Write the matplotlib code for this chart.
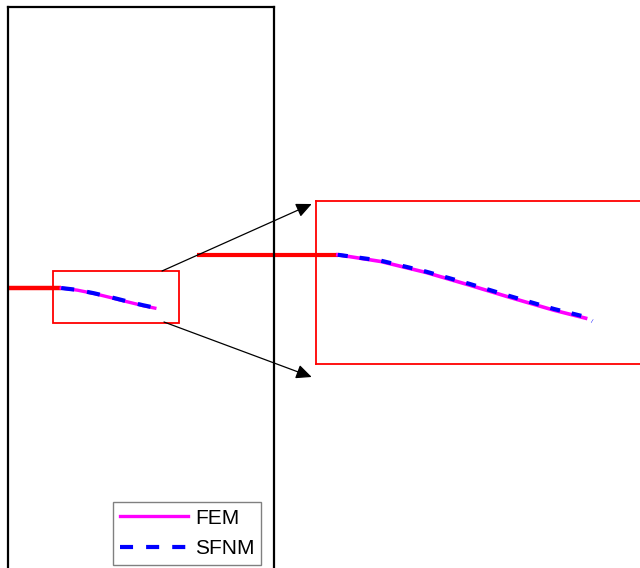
import matplotlib
matplotlib.use("Agg")
import matplotlib.pyplot as plt
from matplotlib.patches import Rectangle, FancyArrowPatch

plt.rcParams['font.family'] = ['Liberation Sans', 'DejaVu Sans']
plt.rcParams['lines.scale_dashes'] = False

# ---- data ----
base_x = [0.0, 0.40]
base_y = [0.0, 0.0]
fem_x = [0.40, 0.522, 0.650, 0.773, 0.891, 1.014, 1.104]
fem_y = [0.0, -0.016, -0.042, -0.072, -0.102, -0.132, -0.151]
sfnm_x = [0.40, 0.522, 0.650, 0.773, 0.891, 1.014, 1.104, 1.123]
sfnm_y = [0.0, -0.014, -0.040, -0.069, -0.099, -0.129, -0.148, -0.158]
labels = ["FEM", "SFNM"]
zoom_xlim = (0.338, 1.286)
zoom_ylim = (-0.260, 0.128)
main_xlim = (0.0, 2.0)
main_ylim = (-2.135, 2.113)

W, H = 640, 568
fig = plt.figure(figsize=(W / 100, H / 100), dpi=100)

def px_axes(x0, y0, x1, y1):
    # image pixel coords (top-left origin) -> figure fraction
    return [x0 / W, (H - y1) / H, (x1 - x0) / W, (y1 - y0) / H]

ax = fig.add_axes(px_axes(8, 7, 274, 572))
ax.set_xlim(*main_xlim)
ax.set_ylim(*main_ylim)
ax.set_xticks([])
ax.set_yticks([])
ax.set_facecolor('none')
for s in ax.spines.values():
    s.set_linewidth(1.6)
    s.set_color('black')
ax.set_zorder(3)

ax.plot(base_x, base_y, color='#ff0000', lw=3.2, solid_capstyle='butt')
l1, = ax.plot(fem_x, fem_y, color='#ff00ff', lw=2.4, label=labels[0])
l2, = ax.plot(sfnm_x, sfnm_y, color='#0000ff', lw=3.0, label=labels[1])
l2.set_dashes((9.4, 9.4))
l2.set_dash_capstyle('butt')

ax.add_patch(Rectangle((zoom_xlim[0], zoom_ylim[0]),
                       zoom_xlim[1] - zoom_xlim[0], zoom_ylim[1] - zoom_ylim[0],
                       fill=False, edgecolor='#ff0000', lw=1.3))

leg = ax.legend(handles=[l1, l2], loc='upper left',
                bbox_to_anchor=(113 / W, (H - 502) / H), bbox_transform=fig.transFigure,
                borderaxespad=0, fontsize=15, handlelength=3.3, handletextpad=0.32,
                borderpad=0.32, labelspacing=0.56, fancybox=False, framealpha=1,
                edgecolor='#808080')
leg.get_frame().set_linewidth(1.0)

# inset
x_scale = 352.0
inset_w = (zoom_xlim[1] - zoom_xlim[0]) * x_scale
ax2 = fig.add_axes(px_axes(316, 201, 316 + inset_w, 364))
ax2.set_zorder(1)
ax2.set_xlim(*zoom_xlim)
ax2.set_ylim(*zoom_ylim)
ax2.set_xticks([])
ax2.set_yticks([])
for s in ax2.spines.values():
    s.set_color('#ff0000')
    s.set_linewidth(1.3)
ax2.plot(base_x, base_y, color='#ff0000', lw=3.0, clip_on=False, solid_capstyle='butt')
ax2.plot(fem_x, fem_y, color='#ff00ff', lw=2.6)
l3, = ax2.plot(sfnm_x, sfnm_y, color='#0000ff', lw=3.0)
l3.set_dashes((7.2, 8.6))
l3.set_dash_capstyle('butt')

# arrows
for (sx, sy), (ex, ey) in [((162, 271), (311.7, 204)), ((164, 322), (311.7, 377))]:
    fig.add_artist(FancyArrowPatch(
        (sx, H - sy), (ex, H - ey), transform=None,
        arrowstyle='-|>,head_length=0.94,head_width=0.43', mutation_scale=10,
        color='black', lw=0.9, shrinkA=0, shrinkB=0, zorder=5))

fig.savefig('out.png', dpi=100)
